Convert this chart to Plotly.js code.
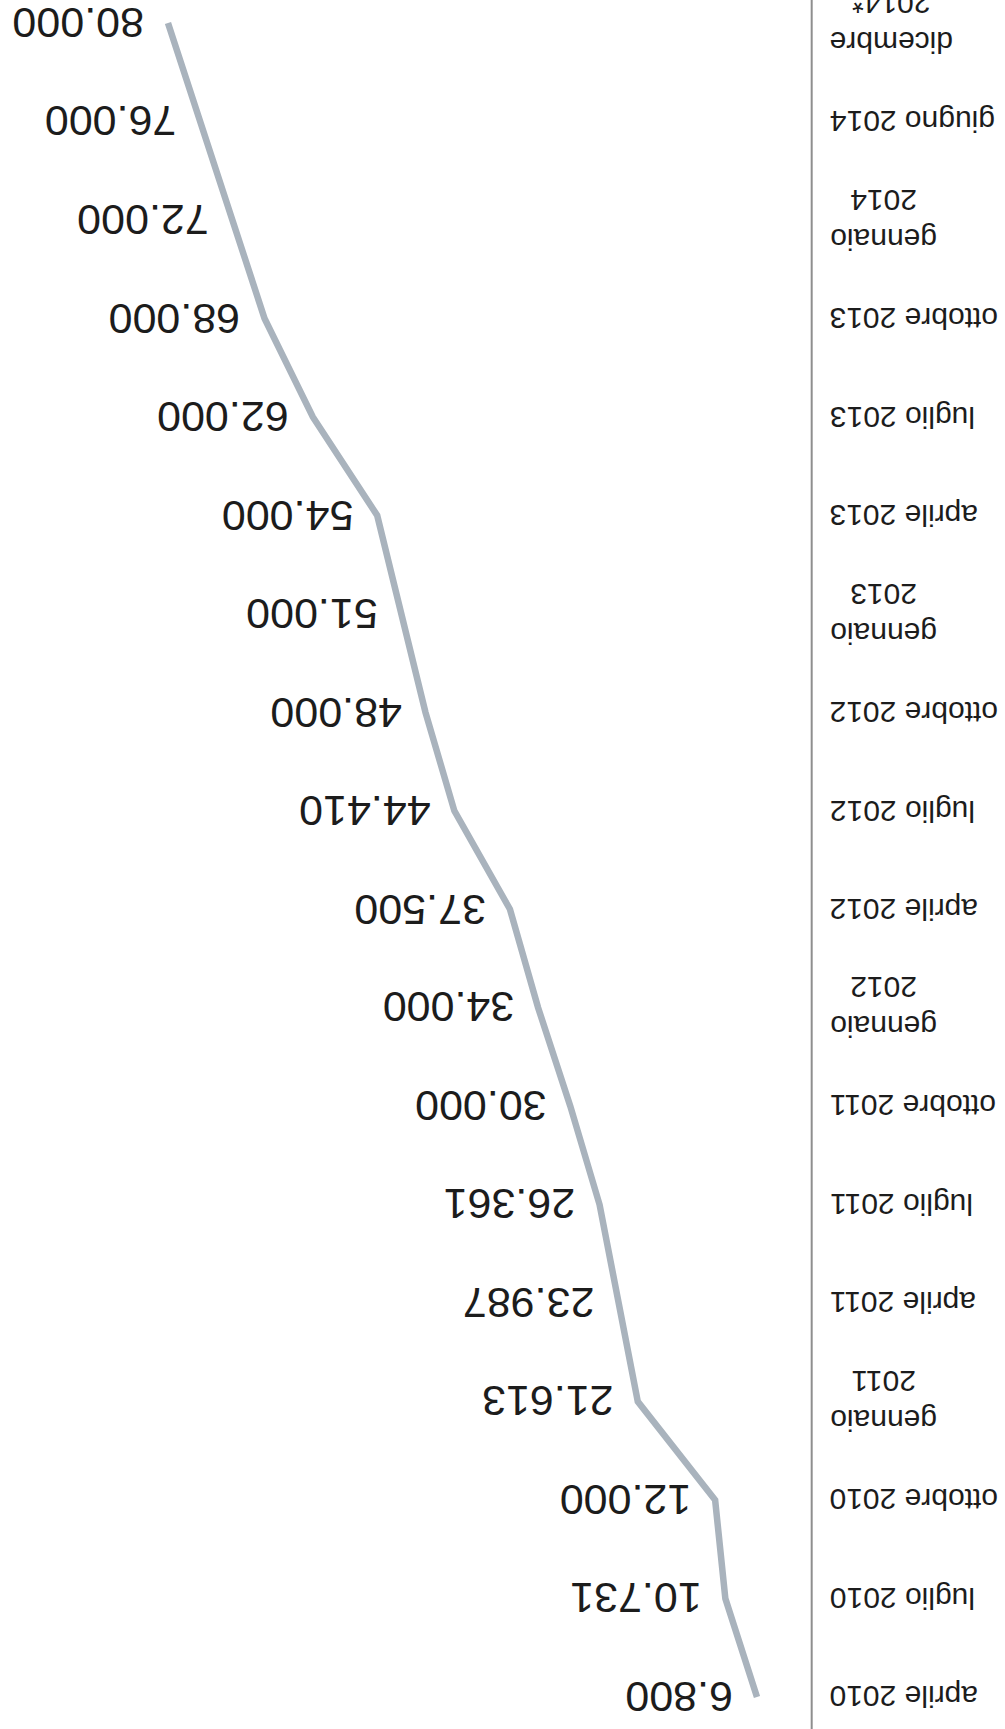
<!DOCTYPE html>
<html>
<head>
<meta charset="utf-8">
<script src="https://cdn.plot.ly/plotly-3.0.1.min.js"></script>
<style>
  html, body { margin: 0; padding: 0; background: #ffffff; }
  #chart { width: 1005px; height: 1729px; }
</style>
</head>
<body>
<div id="chart"></div>
<script>
// Periods (category axis) and the running totals for each period
const periods = [
  'aprile 2010', 'luglio 2010', 'ottobre 2010', 'gennaio<br>2011',
  'aprile 2011', 'luglio 2011', 'ottobre 2011', 'gennaio<br>2012',
  'aprile 2012', 'luglio 2012', 'ottobre 2012', 'gennaio<br>2013',
  'aprile 2013', 'luglio 2013', 'ottobre 2013', 'gennaio<br>2014',
  'giugno 2014', 'dicembre<br>2014*'
];
const values = [
  6800, 10731, 12000, 21613,
  23987, 26361, 30000, 34000,
  37500, 44410, 48000, 51000,
  54000, 62000, 68000, 72000,
  76000, 80000
];

// Italian number format: dot as thousands separator
function fmt(v) {
  return String(v).replace(/\B(?=(\d{3})+(?!\d))/g, '.');
}

const FONT = '"Liberation Sans", Arial, Helvetica, sans-serif';
const LINE_COLOR = '#a9b3bd';
const TEXT_COLOR = '#1c1c1c';

const trace = {
  type: 'scatter',
  mode: 'lines',
  x: values,
  y: periods,
  line: { color: LINE_COLOR, width: 6.5, shape: 'linear' },
  hoverinfo: 'skip',
  showlegend: false
};

// The whole chart is presented turned upside down (180°):
// values grow to the left, periods run from bottom to top,
// and every label is rotated 180°.
const valueAnnotations = values.map((v, i) => ({
  x: v, y: periods[i], xref: 'x', yref: 'y',
  text: fmt(v),
  showarrow: false,
  textangle: 180,
  xanchor: 'right', yanchor: 'middle',
  xshift: -22,
  font: { family: FONT, size: 43, color: TEXT_COLOR }
}));

const periodAnnotations = periods.map(p => ({
  x: 828 / 1005, y: p, xref: 'paper', yref: 'y',
  text: p,
  showarrow: false,
  textangle: 180,
  xanchor: 'left', yanchor: 'middle',
  align: 'center',
  font: { family: FONT, size: 30, color: TEXT_COLOR }
}));

const layout = {
  width: 1005,
  height: 1729,
  margin: { l: 0, r: 0, t: 0, b: 0, pad: 0 },
  paper_bgcolor: '#ffffff',
  plot_bgcolor: '#ffffff',
  showlegend: false,
  xaxis: {
    range: [100877, -24024],
    showgrid: false, zeroline: false, showline: false,
    showticklabels: false, ticks: '', fixedrange: true
  },
  yaxis: {
    type: 'category',
    categoryorder: 'array',
    categoryarray: periods,
    range: [-0.325, 17.234],
    showgrid: false, zeroline: false, showline: false,
    showticklabels: false, ticks: '', fixedrange: true
  },
  shapes: [{
    type: 'line', xref: 'x', yref: 'paper',
    x0: 0, x1: 0, y0: 0, y1: 1,
    line: { color: '#8e8e8e', width: 2 }
  }],
  annotations: valueAnnotations.concat(periodAnnotations)
};

Plotly.newPlot('chart', [trace], layout, { displayModeBar: false, staticPlot: true });
</script>
</body>
</html>
